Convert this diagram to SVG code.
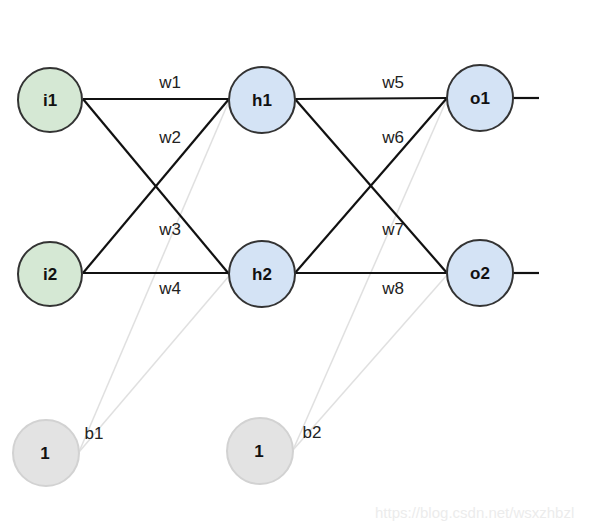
<svg xmlns="http://www.w3.org/2000/svg" width="593" height="531" viewBox="0 0 593 531">
<style>
.conn{stroke:#111;stroke-width:2.2;fill:none}
.bias{stroke:#e0e0e0;stroke-width:1.5;fill:none}
.node{stroke:#333;stroke-width:2}
.in{fill:#d5e8d4}
.hid{fill:#d4e3f5}
.bn{fill:#e3e3e3;stroke:#d2d2d2;stroke-width:2}
.lbl{font-family:"Liberation Sans",Arial,sans-serif;font-size:17px;font-weight:bold;fill:#111;text-anchor:middle}
.w{font-family:"Liberation Sans",Arial,sans-serif;font-size:17px;fill:#222;text-anchor:middle}
.wm{font-family:"Liberation Sans",Arial,sans-serif;font-size:15px;fill:#ececec}
</style>
<rect width="593" height="531" fill="#fff"/>
<g id="connectors">
<line class="bias" x1="79" y1="452" x2="229" y2="101"/>
<line class="bias" x1="79" y1="452" x2="229" y2="276"/>
<line class="bias" x1="293" y1="450" x2="447" y2="99"/>
<line class="bias" x1="293" y1="450" x2="447" y2="275"/>
<line class="conn" x1="83" y1="99" x2="229" y2="99"/>
<line class="conn" x1="83" y1="99" x2="229" y2="274"/>
<line class="conn" x1="83" y1="273" x2="229" y2="99"/>
<line class="conn" x1="83" y1="273" x2="229" y2="273"/>
<line class="conn" x1="295" y1="99" x2="447" y2="98"/>
<line class="conn" x1="295" y1="99" x2="447" y2="273"/>
<line class="conn" x1="295" y1="273" x2="447" y2="98"/>
<line class="conn" x1="295" y1="273" x2="447" y2="273"/>
<line class="conn" x1="513" y1="98" x2="539" y2="98"/>
<line class="conn" x1="513" y1="273" x2="539" y2="273"/>
<text class="w" x="170" y="88">w1</text>
<text class="w" x="170" y="143">w2</text>
<text class="w" x="170" y="235">w3</text>
<text class="w" x="170" y="294">w4</text>
<text class="w" x="393" y="88">w5</text>
<text class="w" x="393" y="143">w6</text>
<text class="w" x="393" y="235">w7</text>
<text class="w" x="393" y="294">w8</text>
<text class="w" x="94" y="439">b1</text>
<text class="w" x="312" y="438">b2</text>
</g>
<g id="i1"><circle class="node in" cx="50" cy="100" r="32"/><text class="lbl" x="50" y="106">i1</text></g>
<g id="i2"><circle class="node in" cx="50" cy="274" r="32"/><text class="lbl" x="50" y="280">i2</text></g>
<g id="h1"><circle class="node hid" cx="262" cy="100" r="33"/><text class="lbl" x="262" y="106">h1</text></g>
<g id="h2"><circle class="node hid" cx="262" cy="274" r="33"/><text class="lbl" x="262" y="280">h2</text></g>
<g id="o1"><circle class="node hid" cx="480" cy="98" r="33"/><text class="lbl" x="480" y="104">o1</text></g>
<g id="o2"><circle class="node hid" cx="480" cy="273" r="33"/><text class="lbl" x="480" y="279">o2</text></g>
<g id="bias1"><circle class="bn" cx="46" cy="453" r="33"/><text class="lbl" x="45" y="459">1</text></g>
<g id="bias2"><circle class="bn" cx="260" cy="451" r="33"/><text class="lbl" x="259" y="457">1</text></g>
<text class="wm" x="375" y="518">https://blog.csdn.net/wsxzhbzl</text>
</svg>
